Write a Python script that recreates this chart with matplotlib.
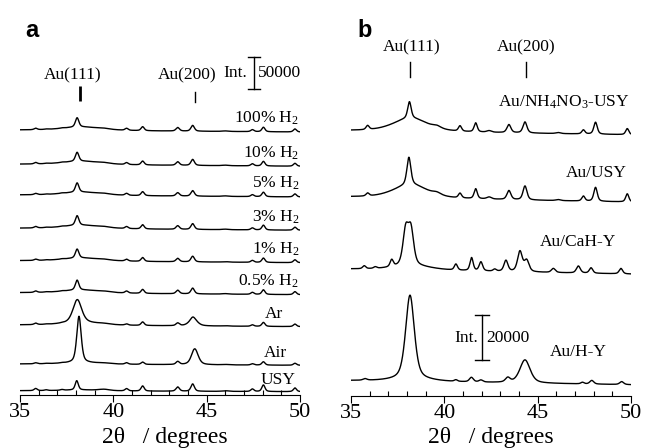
import matplotlib.pyplot as plt
import numpy as np
from matplotlib.ticker import MultipleLocator

plt.rcParams['font.family'] = ['Liberation Serif', 'DejaVu Serif']
plt.rcParams['mathtext.fontset'] = 'custom'
plt.rcParams['mathtext.rm'] = 'Liberation Serif'
plt.rcParams['mathtext.it'] = 'Liberation Serif:italic'

two_theta = np.linspace(35, 50, 1501)

# ---- panel a: Au/USY treated in different gases (intensity, counts) ----
a_labels = ["100% H$_\\mathregular{2}$", "10% H$_\\mathregular{2}$", "5% H$_\\mathregular{2}$",
            "3% H$_\\mathregular{2}$", "1% H$_\\mathregular{2}$", "0.5% H$_\\mathregular{2}$",
            "Ar", "Air", "USY"]
a_base = [414000, 360500, 312500, 260500, 209800, 159800, 109400, 48400, 6700]
a_drop = [3100, 3100, 3100, 3100, 3100, 3100, 2600, 2000, 1500]

# zeolite reflections + amorphous hump (38.3), shared positions / widths
a_pos = [35.84, 36.4, 37.25, 38.3, 39.5, 40.71, 41.57, 43.45, 44.25, 46.0, 47.45, 48.04, 49.73]
a_fwhm = [0.2, 0.2, 0.2, 2.5, 0.7, 0.2, 0.2, 0.22, 0.22, 0.4, 0.2, 0.2, 0.2]
a_heights = [
    [2300, 600, 600, 5500, 1100, 3100, 6200, 5500, 9000, 800, 3100, 7000, 4700],
    [2300, 600, 600, 5500, 1100, 3000, 6000, 5500, 9400, 800, 3300, 7200, 4500],
    [2000, 600, 600, 5200, 1100, 3000, 6200, 5200, 8600, 800, 3000, 7000, 4700],
    [2300, 600, 600, 5500, 1100, 3100, 6500, 5600, 9000, 800, 3100, 7500, 4700],
    [2000, 600, 600, 5000, 1000, 2800, 6000, 5300, 8800, 700, 3000, 6800, 4500],
    [2300, 600, 600, 5000, 1100, 3100, 6200, 5500, 9000, 800, 3100, 7200, 4700],
    [2300, 500, 500, 4000, 1000, 1900, 5500, 4200, 2000, 600, 2300, 6200, 3900],
    [1600, 500, 500, 2500, 900, 2300, 3600, 4700, 1500, 600, 2000, 5200, 3100],
    [3400, 1200, 1200, 1500, 2000, 3600, 8000, 6600, 11500, 1000, 3900, 10300, 5800],
]
a_au111_pos = [38.06, 38.06, 38.06, 38.06, 38.06, 38.06, 38.07, 38.16, 38.04]
a_au111_h = [14500, 14000, 14500, 15000, 14000, 15500, 36300, 72500, 14500]
a_au111_w = [0.22, 0.22, 0.22, 0.22, 0.22, 0.22, 0.55, 0.28, 0.2]
a_au200_pos = [44.3, 44.3, 44.3, 44.3, 44.3, 44.3, 44.28, 44.37, 44.3]
a_au200_h = [0, 0, 0, 0, 0, 0, 12000, 24200, 0]
a_au200_w = [0.3, 0.3, 0.3, 0.3, 0.3, 0.3, 0.5, 0.42, 0.3]

# ---- panel b: Au on different zeolites, (position, height, fwhm) ----
b_labels = ["Au/NH$_\\mathregular{4}$NO$_\\mathregular{3}$-USY", "Au/USY", "Au/CaH-Y", "Au/H-Y"]
b_base = [117900, 88400, 56400, 6800]
b_drop = [1800, 2200, 2200, 1800]
b_peaks = [
    [(35.89, 1800, 0.2), (38.2, 6000, 2.2), (38.13, 7300, 0.22), (39.6, 900, 0.5),
     (40.84, 2400, 0.2), (41.68, 4000, 0.2), (42.4, 700, 0.3), (43.46, 3600, 0.25),
     (44.32, 4900, 0.25), (46.1, 450, 0.3), (47.45, 1800, 0.2), (48.1, 5300, 0.22),
     (49.8, 2700, 0.2)],
    [(35.89, 1300, 0.2), (38.2, 6000, 2.2), (38.1, 12200, 0.25), (39.6, 900, 0.5),
     (40.84, 2100, 0.2), (41.68, 4400, 0.2), (42.4, 900, 0.3), (43.46, 4000, 0.25),
     (44.32, 6200, 0.25), (46.1, 450, 0.3), (47.45, 2200, 0.2), (48.1, 6200, 0.22),
     (49.8, 3600, 0.2)],
    [(35.71, 1300, 0.2), (36.3, 700, 0.2), (37.18, 3100, 0.2), (37.93, 15500, 0.35),
     (38.21, 15500, 0.35), (38.3, 1800, 2.5), (40.62, 2700, 0.2), (41.46, 5800, 0.2),
     (41.96, 4000, 0.22), (42.7, 900, 0.2), (43.3, 4900, 0.25), (44.05, 9000, 0.3),
     (44.41, 5000, 0.3), (45.84, 1800, 0.25), (47.18, 3100, 0.25), (47.86, 2400, 0.22),
     (49.46, 2400, 0.22)],
    [(35.75, 700, 0.25), (38.16, 37500, 0.55), (38.3, 900, 2.5), (40.62, 700, 0.2),
     (41.45, 2000, 0.25), (41.96, 900, 0.25), (43.4, 2000, 0.3), (44.32, 10300, 0.65),
     (47.4, 700, 0.2), (47.9, 1600, 0.25), (49.5, 1300, 0.25)],
]

ticks = [35, 40, 45, 50]


def profile(peaks):
    # pseudo-Voigt peaks, eta = 0.5
    y = np.zeros_like(two_theta)
    for pos, h, w in peaks:
        d = (two_theta - pos) / w
        y += h * (0.5 / (1 + 4 * d ** 2) + 0.5 * np.exp(-4 * np.log(2) * d ** 2))
    return y


def trace(base, drop, peaks):
    return base - drop * (two_theta - 35) / 15 + profile(peaks)


def style_axis(ax):
    for s in ["top", "left", "right"]:
        ax.spines[s].set_visible(False)
    ax.spines["bottom"].set_linewidth(0.8)
    ax.set_xlim(35, 50)
    ax.set_xticks(ticks)
    ax.xaxis.set_minor_locator(MultipleLocator(1))
    ax.set_yticks([])
    ax.tick_params(which="major", direction="out", length=5, width=0.8, labelsize=16, pad=0.5)
    ax.tick_params(which="minor", direction="in", length=3.5, width=0.8)


W, H = 646, 448
fig = plt.figure(figsize=(W / 100, H / 100), dpi=100)

# panel a: 32 px per 50000 counts, axis line at y=395 px
cpp_a = 50000 / 32
ax_a = fig.add_axes([20 / W, (H - 395) / H, 280 / W, 395 / H])
ax_a.set_ylim(0, 395 * cpp_a)
style_axis(ax_a)


def to_a(py):
    return (395 - py) * cpp_a


a_label_x = [49.95, 49.95, 49.95, 49.95, 49.95, 49.95, 49.09, 49.3, 49.75]
for i, lab in enumerate(a_labels):
    peaks = list(zip(a_pos, a_heights[i], a_fwhm))
    peaks.append((a_au111_pos[i], a_au111_h[i], a_au111_w[i]))
    peaks.append((a_au200_pos[i], a_au200_h[i], a_au200_w[i]))
    ax_a.plot(two_theta, trace(a_base[i], a_drop[i], peaks), color="black", lw=1.0)
    ax_a.text(a_label_x[i], a_base[i] + 7 * cpp_a, lab, ha="right", va="baseline",
              fontsize=12.5)

ax_a.plot([38.21, 38.21], [to_a(101), to_a(86)], color="black", lw=2, solid_capstyle="butt")
ax_a.plot([44.38, 44.38], [to_a(102), to_a(92)], color="black", lw=1)
ax_a.text(37.84, to_a(79), "Au(111)", ha="center", va="baseline", fontsize=12.5)
ax_a.text(43.95, to_a(79), "Au(200)", ha="center", va="baseline", fontsize=12.5)

bar_a = to_a(89)
ax_a.plot([47.54, 47.54], [bar_a, bar_a + 50000], color="black", lw=1)
for yb in (bar_a, bar_a + 50000):
    ax_a.plot([47.22, 47.86], [yb, yb], color="black", lw=1)
ax_a.text(47.16, bar_a + 25000, "Int.", ha="right", va="center", fontsize=12.5)
ax_a.text(47.72, bar_a + 25000, "50000", ha="left", va="center", fontsize=12.5)
ax_a.text(0.518, -0.121, "2θ   / degrees", transform=ax_a.transAxes, ha="center",
          va="baseline", fontsize=17)

# panel b: 45 px per 20000 counts, axis line at y=396 px
cpp_b = 20000 / 45
ax_b = fig.add_axes([351 / W, (H - 396) / H, 280 / W, 396 / H])
ax_b.set_ylim(0, 396 * cpp_b)
style_axis(ax_b)


def to_b(py):
    return (396 - py) * cpp_b


b_label_x = [49.95, 49.77, 49.2, 48.7]
b_label_dy = [23.7, 20, 23.3, 25]
for i, lab in enumerate(b_labels):
    ax_b.plot(two_theta, trace(b_base[i], b_drop[i], b_peaks[i]), color="black", lw=1.0)
    ax_b.text(b_label_x[i], b_base[i] + b_label_dy[i] * cpp_b, lab, ha="right",
              va="baseline", fontsize=12.5)

ax_b.plot([38.16, 38.16], [to_b(77), to_b(62)], color="black", lw=1)
ax_b.plot([44.375, 44.375], [to_b(77), to_b(62)], color="black", lw=1)
ax_b.text(38.27, to_b(51.7), "Au(111)", ha="center", va="baseline", fontsize=12.5)
ax_b.text(44.375, to_b(51.7), "Au(200)", ha="center", va="baseline", fontsize=12.5)

bar_b = to_b(360)
ax_b.plot([42.0, 42.0], [bar_b, bar_b + 20000], color="black", lw=1)
for yb in (bar_b, bar_b + 20000):
    ax_b.plot([41.63, 42.37], [yb, yb], color="black", lw=1)
ax_b.text(41.8, bar_b + 10000, "Int.", ha="right", va="center", fontsize=12.5)
ax_b.text(42.27, bar_b + 10000, "20000", ha="left", va="center", fontsize=12.5)
ax_b.text(0.498, -0.118, "2θ   / degrees", transform=ax_b.transAxes, ha="center",
          va="baseline", fontsize=17)

fig.text(25 / W, 1 - 37 / H, "a", fontsize=17, fontweight="bold", family="Liberation Sans",
         va="baseline")
fig.text(357 / W, 1 - 37 / H, "b", fontsize=17, fontweight="bold", family="Liberation Sans",
         va="baseline")

fig.savefig("out.png", dpi=100)
